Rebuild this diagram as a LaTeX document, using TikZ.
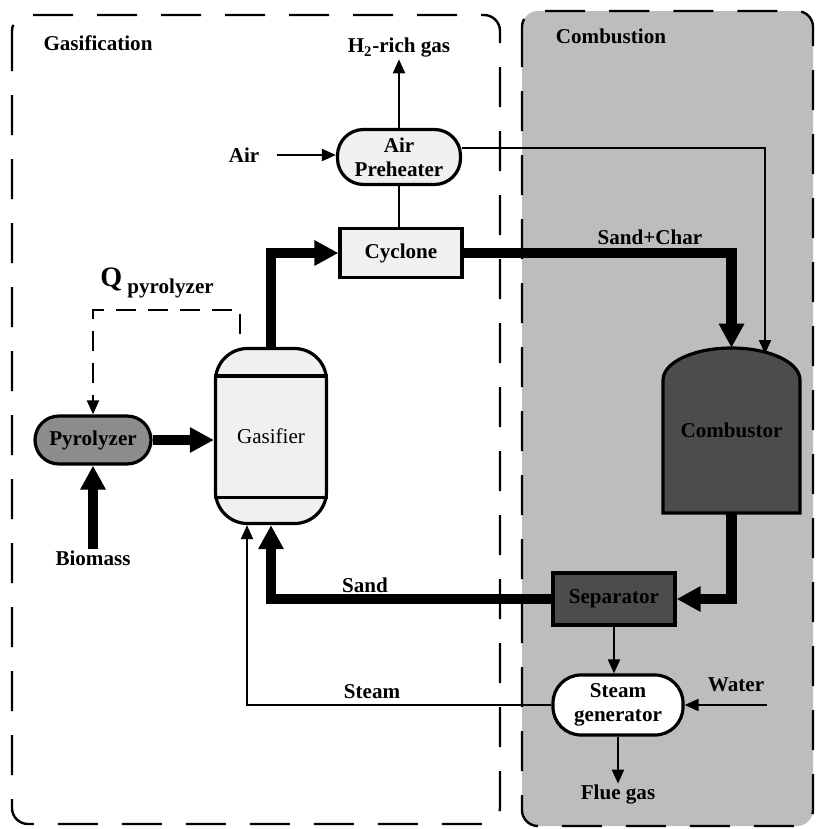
\documentclass[tikz,border=0pt]{standalone}
\usepackage{fontspec}
\setmainfont{Liberation Serif}
\usetikzlibrary{arrows.meta,positioning,calc}
\definecolor{combzone}{gray}{0.74}
\definecolor{darkunit}{gray}{0.30}
\definecolor{pyrounit}{gray}{0.55}
\definecolor{lightunit}{gray}{0.94}

\begin{document}
\begin{tikzpicture}[x=0.25mm, y=-0.25mm,
  lbl/.style={font=\fontsize{15}{17}\selectfont\bfseries, inner sep=1pt},
  unit/.style={draw, line width=0.8mm, fill=lightunit, align=center, inner sep=1pt,
    font=\fontsize{15}{17}\selectfont\bfseries},
  zone/.style={line width=0.6mm, dash pattern=on 10mm off 6mm, rounded corners=4mm},
  thinline/.style={line width=0.5mm},
  thinflow/.style={line width=0.5mm, -{Triangle[length=3.5mm,width=3mm]}},
  thickflow/.style={line width=2.6mm, -{Triangle[length=6mm,width=6mm]}},
  qflow/.style={line width=0.5mm, dash pattern=on 5mm off 3mm, -{Triangle[length=3.5mm,width=3mm]}}]

\useasboundingbox (0,0) rectangle (817,829);

% Zones
\draw[zone] (12,15) rectangle (500,824);
\fill[combzone, rounded corners=4mm] (522,11) rectangle (813,826);
\draw[zone] (522,11) rectangle (813,826);
\node[lbl] (gtitle) at (98,43) {Gasification};
\node[lbl] (ctitle) at (611,36) {Combustion};

% Units
\node[unit, rounded corners=6.5mm, minimum width=30.75mm, minimum height=13.75mm]
  (pre) at (399,157) {Air\\Preheater};
\node[unit, minimum width=30.5mm, minimum height=12.25mm] (cyc) at (401,253) {Cyclone};
\node[unit, rounded corners=6mm, fill=pyrounit, minimum width=29mm, minimum height=12mm]
  (pyr) at (93,440) {Pyrolyzer};
\node[unit, rounded corners=8mm, minimum width=27.75mm, minimum height=43.75mm,
  font=\fontsize{15}{17}\selectfont] (gas) at (271,436) {Gasifier};
\draw[line width=0.8mm] ([yshift=-7.25mm]gas.north west) -- ([yshift=-7.25mm]gas.north east);
\draw[line width=0.8mm] ([yshift=7mm]gas.south west) -- ([yshift=7mm]gas.south east);

% Combustor: domed vessel
\draw[line width=0.8mm, fill=darkunit]
  (663,513) -- (663,380) arc[start angle=180, end angle=0, x radius=17.125mm, y radius=8mm]
  -- (800,513) -- cycle;
\node[lbl, minimum width=34.25mm, minimum height=41.25mm] (comb) at (731.5,430.5) {Combustor};

\node[unit, fill=darkunit, minimum width=30.5mm, minimum height=13mm] (sep) at (614,599) {Separator};
\node[unit, rounded corners=7mm, fill=white, minimum width=32.5mm, minimum height=15mm]
  (sg) at (618,705) {Steam\\generator};

% Stream labels
\node[lbl] (h2) at (399,48) {H\textsubscript{2}-rich gas};
\node[lbl] (air) at (244,155) {Air};
\node[lbl] (biomass) at (93,558) {Biomass};
\node[lbl] (qlbl) at (157,283) {{\fontsize{20}{22}\selectfont Q}\ \raisebox{-5pt}{pyrolyzer}};
\node[lbl] (sandchar) at (650,237) {Sand+Char};
\node[lbl] (sand) at (365,585) {Sand};
\node[lbl] (steam) at (372,692) {Steam};
\node[lbl] (water) at (736,685) {Water};
\node[lbl] (flue) at (618,795) {Flue gas};

\coordinate (cair) at (765,354);
\coordinate (qs) at (240,334);
\coordinate (wtr) at (767,705);

% Thin streams
\draw[thinflow] (pre.north) -- (h2.south);
\draw[thinflow] ([xshift=4mm]air.east) -- (air.east -| pre.west);
\draw[thinflow] ([yshift=2.25mm]pre.east) -| (cair);
\draw[thinline] (pre.south) -- (pre.south |- cyc.north);
\draw[qflow] (qs) -- ++(0,-24) -| (pyr.north);
\draw[thinflow] (sep.south) -- (sep.south |- sg.north);
\draw[thinflow] (sg.west) -| ([xshift=-6mm]gas.south);
\draw[thinflow] (wtr) -- (wtr -| sg.east);
\draw[thinflow] (sg.south) -- (sg.south |- flue.north);

% Solids streams
\draw[thickflow] (gas.north) |- (cyc.west);
\draw[thickflow] (cyc.east) -| (comb.north);
\draw[thickflow] (pyr.east) -- (pyr.east -| gas.west);
\draw[thickflow] (biomass.north) -- (pyr.south);
\draw[thickflow] (comb.south) |- (sep.east);
\draw[thickflow] (sep.west) -| (gas.south);

\end{tikzpicture}
\end{document}
